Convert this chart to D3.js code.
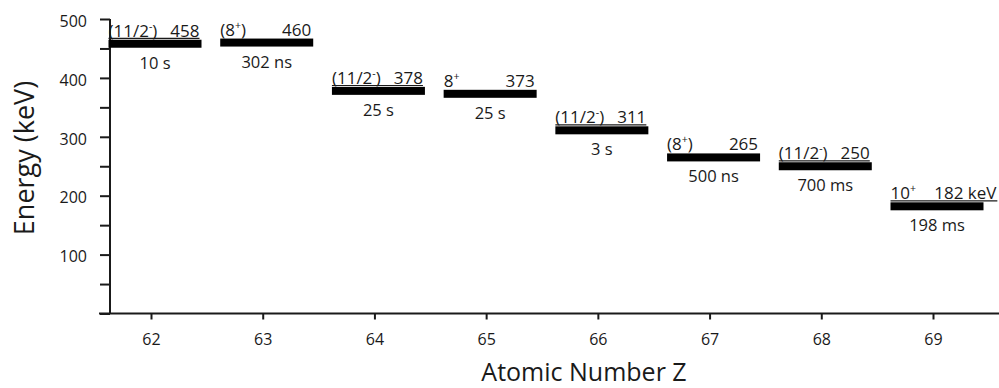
<!DOCTYPE html>
<html>
<head>
<meta charset="utf-8">
<script src="https://cdn.jsdelivr.net/npm/d3@7"></script>
<style>
  html, body { margin: 0; padding: 0; background: #fff; }
  svg { display: block; font-family: "Open Sans", sans-serif; }
</style>
</head>
<body>
<svg id="chart" width="999" height="388"></svg>
<script>
// Isomeric states: one bar per element, placed at its excitation energy
const atomicNumbers = [62, 63, 64, 65, 66, 67, 68, 69];
const isomerEnergies = [458, 460, 378, 373, 311, 265, 250, 182];
const spinValues = ["(11/2", "(8", "(11/2", "8", "(11/2", "(8", "(11/2", "10"];
const spinParities = ["-", "+", "-", "+", "-", "+", "-", "+"];
const spinClosers = [")", ")", ")", "", ")", ")", ")", ""];
const halfLives = ["10 s", "302 ns", "25 s", "25 s", "3 s", "500 ns", "700 ms", "198 ms"];
const energyUnits = ["", "", "", "", "", "", "", "keV"];

// Axis ticks
const yTickValues = [0, 50, 100, 150, 200, 250, 300, 350, 400, 450, 500];
const yTickLabels = [100, 200, 300, 400, 500];
const xTickValues = [62, 63, 64, 65, 66, 67, 68, 69];

const ink = "#1a1a1a";
const svg = d3.select("#chart");

const x = d3.scaleLinear().domain([62, 69]).range([151, 933]);
const y = d3.scaleLinear().domain([0, 500]).range([313.5, 19]);

const axisX0 = 110;      // vertical axis position
const barHalf = 46.5;    // half bar length
const barShift = 4;      // bars sit slightly right of the tick
const barThick = 8;

// ---- Y axis ----
const yAxis = svg.append("g")
  .attr("transform", `translate(${axisX0},0)`)
  .call(d3.axisLeft(y)
    .tickValues(yTickValues)
    .tickSize(10)
    .tickPadding(13)
    .tickFormat(d => yTickLabels.includes(d) ? d : ""));
yAxis.select(".domain").remove();
yAxis.selectAll(".tick line").attr("stroke", ink).attr("stroke-width", 2);
yAxis.selectAll(".tick text")
  .attr("fill", ink)
  .attr("font-family", "Open Sans")
  .attr("font-size", 16)
  .attr("dy", "0.45em");

svg.append("line")
  .attr("x1", axisX0).attr("x2", axisX0)
  .attr("y1", y(0)).attr("y2", y(500))
  .attr("stroke", ink).attr("stroke-width", 2);

// ---- X axis ----
const xAxis = svg.append("g")
  .attr("transform", `translate(0,${y(0)})`)
  .call(d3.axisBottom(x)
    .tickValues(xTickValues)
    .tickSize(6)
    .tickPadding(14)
    .tickFormat(d3.format("d")));
xAxis.select(".domain").remove();
xAxis.selectAll(".tick line").attr("stroke", ink).attr("stroke-width", 2);
xAxis.selectAll(".tick text")
  .attr("fill", ink)
  .attr("font-family", "Open Sans")
  .attr("font-size", 16);

svg.append("line")
  .attr("x1", axisX0 - 11).attr("x2", 999)
  .attr("y1", y(0)).attr("y2", y(0))
  .attr("stroke", ink).attr("stroke-width", 2);

// ---- Axis titles ----
svg.append("text")
  .attr("x", 584).attr("y", 381)
  .attr("text-anchor", "middle")
  .attr("font-size", 25)
  .attr("fill", ink)
  .text("Atomic Number Z");

svg.append("text")
  .attr("transform", "translate(34,158) rotate(-90)")
  .attr("text-anchor", "middle")
  .attr("font-size", 27)
  .attr("fill", ink)
  .text("Energy (keV)");

// ---- Level bars and labels ----
const levels = atomicNumbers.map((z, i) => ({
  z, e: isomerEnergies[i],
  spin: spinValues[i], parity: spinParities[i], close: spinClosers[i],
  life: halfLives[i], unit: energyUnits[i]
}));

const g = svg.append("g");

levels.forEach(d => {
  const cx = x(d.z) + barShift;
  const left = cx - barHalf, right = cx + barHalf;
  const top = y(d.e) - barThick / 2;

  g.append("rect")
    .attr("x", left).attr("y", top)
    .attr("width", right - left).attr("height", barThick)
    .attr("fill", "#000");

  const base = top - 3;

  // spin-parity label, left aligned on the bar
  const spin = g.append("text")
    .attr("x", left).attr("y", base)
    .attr("font-size", 17).attr("fill", ink);
  spin.append("tspan").text(d.spin);
  spin.append("tspan").attr("font-size", 10.5).attr("dy", -7).text(d.parity);
  spin.append("tspan").attr("dy", 7).text(d.close);

  // energy label, right aligned on the bar
  const en = g.append("text")
    .attr("x", d.unit ? right + 13 : right - 2).attr("y", base)
    .attr("text-anchor", "end")
    .attr("font-size", 17).attr("fill", ink)
    .text(d.unit ? `${d.e} ${d.unit}` : d.e);

  // half-life below the bar
  g.append("text")
    .attr("x", cx).attr("y", top + barThick + 21)
    .attr("text-anchor", "middle")
    .attr("font-size", 16.5).attr("fill", ink)
    .text(d.life);

  // odd-A and 10+ labels are underlined
  if (d.parity === "-" || d.unit) {
    const sb = spin.node().getBBox();
    const eb = en.node().getBBox();
    g.append("line")
      .attr("x1", sb.x).attr("x2", eb.x + eb.width)
      .attr("y1", base + 1.6).attr("y2", base + 1.6)
      .attr("stroke", ink).attr("stroke-width", 1.1);
  }
});
</script>
</body>
</html>
